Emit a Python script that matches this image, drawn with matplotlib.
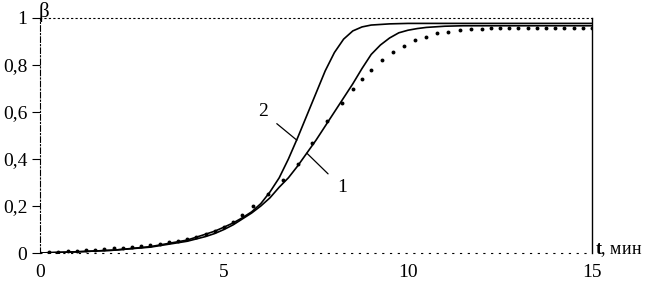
import numpy as np
import matplotlib
matplotlib.use('Agg')
import matplotlib.pyplot as plt

# curve 1 (solid, flatter)
t1 = [0, 1, 2, 3, 4, 4.5, 4.75, 5, 5.25, 5.5, 5.75, 6, 6.25, 6.5, 6.75, 7, 7.25, 7.5, 7.75, 8,
      8.25, 8.5, 8.75, 9, 9.25, 9.5, 9.75, 10, 10.25, 10.5, 11, 11.5, 12, 13, 14, 15]
beta1 = [0, 0.005, 0.012, 0.025, 0.05, 0.07, 0.083, 0.10, 0.12, 0.145, 0.17, 0.20, 0.235, 0.28,
         0.32, 0.37, 0.425, 0.48, 0.54, 0.60, 0.66, 0.72, 0.785, 0.845, 0.885, 0.915, 0.937,
         0.948, 0.955, 0.96, 0.965, 0.967, 0.967, 0.967, 0.967, 0.967]

# curve 2 (solid, steeper)
t2 = [0, 1, 2, 3, 4, 4.5, 4.75, 5, 5.25, 5.5, 5.75, 6, 6.25, 6.5, 6.75, 7, 7.25, 7.5, 7.75, 8,
      8.25, 8.5, 8.75, 9, 9.5, 10, 12, 15]
beta2 = [0, 0.005, 0.012, 0.027, 0.055, 0.08, 0.093, 0.11, 0.128, 0.15, 0.175, 0.21, 0.26, 0.32,
         0.40, 0.49, 0.585, 0.68, 0.775, 0.853, 0.91, 0.945, 0.962, 0.97, 0.975, 0.977, 0.977,
         0.977]

# experimental points
t_pts = [0, 0.25, 0.5, 0.75, 1, 1.25, 1.5, 1.75, 2, 2.25, 2.5, 2.75, 3, 3.25, 3.5, 3.75, 4, 4.25,
         4.5, 4.75, 5, 5.25, 5.5, 5.8, 6.2, 6.6, 7.0, 7.4, 7.8, 8.2, 8.5, 8.75, 9.0, 9.3, 9.6, 9.9,
         10.2, 10.5, 10.8, 11.1, 11.4, 11.7, 12.0, 12.25, 12.5, 12.75, 13.0, 13.25, 13.5, 13.75,
         14.0, 14.25, 14.5, 14.75, 15.0]
beta_pts = [0, 0.003, 0.005, 0.007, 0.01, 0.012, 0.014, 0.017, 0.02, 0.023, 0.026, 0.03, 0.035,
            0.04, 0.045, 0.052, 0.06, 0.068, 0.08, 0.093, 0.11, 0.13, 0.16, 0.2, 0.25, 0.31, 0.38,
            0.47, 0.56, 0.64, 0.70, 0.74, 0.78, 0.82, 0.855, 0.88, 0.905, 0.92, 0.935, 0.942,
            0.948, 0.952, 0.955, 0.956, 0.957, 0.957, 0.957, 0.957, 0.957, 0.957, 0.957, 0.957,
            0.957, 0.957, 0.957]

y_ticks = [0, 0.2, 0.4, 0.6, 0.8, 1]
y_labels = ['0', '0,2', '0,4', '0,6', '0,8', '1']
x_ticks = [0, 5, 10, 15]
x_labels = ['0', '5', '10', '15']

plt.rcParams['font.family'] = ['Liberation Serif', 'DejaVu Serif']
plt.rcParams['mathtext.fontset'] = 'custom'
plt.rcParams['mathtext.bf'] = 'Liberation Serif:bold'
plt.rcParams['mathtext.rm'] = 'Liberation Serif'

fig = plt.figure(figsize=(6.45, 2.89), dpi=100)
ax = fig.add_axes([40 / 645, 1 - 253 / 289, 552 / 645, 235 / 289])

ax.plot(t1, beta1, color='black', lw=1.2)
ax.plot(t2, beta2, color='black', lw=1.2)
ax.plot(t_pts, beta_pts, 'o', color='black', ms=2.8, mec='none')

ax.set_xlim(0, 15)
ax.set_ylim(0, 1)
ax.set_yticks(y_ticks)
ax.set_yticklabels(y_labels, fontsize=14)
ax.set_xticks(x_ticks)
ax.set_xticklabels(x_labels, fontsize=14)
ax.tick_params(axis='y', direction='out', length=6, width=0.8, pad=3)
ax.tick_params(axis='x', length=0, pad=8)

ax.spines['left'].set_linestyle((0, (5, 2, 1, 2)))
ax.spines['left'].set_linewidth(0.8)
ax.spines['bottom'].set_linestyle((0, (1, 6)))
ax.spines['bottom'].set_linewidth(0.8)
ax.spines['top'].set_linestyle((0, (1, 3)))
ax.spines['top'].set_linewidth(0.8)
ax.spines['right'].set_linewidth(1.0)

# curve labels with leader lines
ax.annotate('2', xy=(6.98, 0.48), xytext=(6.05, 0.60), fontsize=14, ha='center', va='center',
            arrowprops=dict(arrowstyle='-', color='black', lw=0.9, shrinkA=6, shrinkB=0))
ax.annotate('1', xy=(7.25, 0.425), xytext=(8.2, 0.28), fontsize=14, ha='center', va='center',
            arrowprops=dict(arrowstyle='-', color='black', lw=0.9, shrinkA=6, shrinkB=0))

fig.text(39 / 645, 1 - 2 / 289, 'β', fontsize=15, ha='left', va='top')
fig.text(595 / 645, 1 - 250 / 289, r'$\mathbf{t}$, мин', fontsize=13, ha='left', va='center')

fig.savefig('out.png', dpi=100)
